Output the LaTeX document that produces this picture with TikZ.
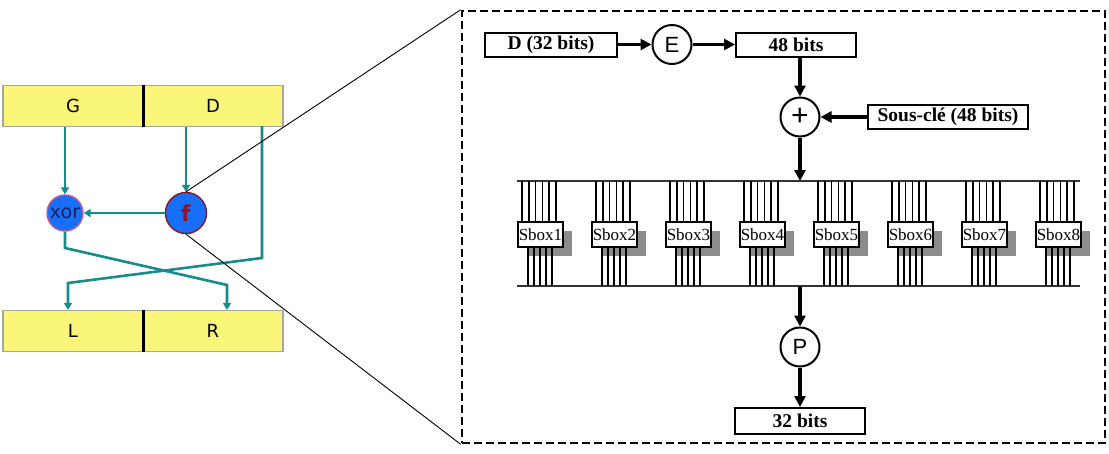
\documentclass[tikz,border=0pt]{standalone}
\usepackage{fontspec}
\setmainfont{Liberation Serif}
\newfontfamily\sansf{Liberation Sans}
\newfontfamily\leftf{DejaVu Sans}
\usetikzlibrary{arrows.meta}
\definecolor{barY}{RGB}{250,246,122}
\definecolor{tealC}{RGB}{22,140,140}
\definecolor{blueC}{RGB}{24,112,250}
\definecolor{fborder}{RGB}{140,20,40}
\definecolor{xborder}{RGB}{190,90,150}
\definecolor{shadowC}{RGB}{140,140,140}
\definecolor{xtext}{RGB}{30,30,90}
\begin{document}
\begin{tikzpicture}[x=1pt,y=-1pt,
  bar/.style={draw=gray!70, line width=1.2pt, fill=barY, minimum width=140pt, minimum height=41pt, inner sep=0pt, font=\leftf\fontsize{18}{18}\selectfont},
  tealarrow/.style={draw=tealC, line width=2.6pt, -{Triangle[length=7pt,width=8pt]}},
  bluecirc/.style={circle, fill=blueC, line width=1.4pt, inner sep=0pt},
  databox/.style={draw, line width=2pt, minimum height=24pt, inner sep=0pt, font=\bfseries\fontsize{19.5}{19.5}\selectfont},
  opcirc/.style={circle, draw, line width=2pt, minimum size=39pt, inner sep=0pt, font=\sansf\fontsize{22}{22}\selectfont},
  bigarrow/.style={line width=3.2pt, -{Triangle[length=11pt,width=11pt]}},
  sboxnode/.style={draw, fill=white, line width=1.8pt, minimum width=45pt, minimum height=25pt, inner sep=0pt, font=\fontsize{17}{17}\selectfont},
  shadowbox/.style={fill=shadowC, minimum width=45pt, minimum height=25pt, inner sep=0pt},
  busline/.style={line width=1.4pt, draw=black!80},
  wire/.style={line width=1.6pt}
]
\useasboundingbox (0,0) rectangle (1109,453);

% ---------- left part ----------
\node[bar] (G) at (73,106) {G};
\node[bar] (D) at (213,106) {D};
\node[bar] (L) at (73,331) {L};
\node[bar] (R) at (213,331) {R};
\draw[line width=2.4pt] (G.north east) -- (G.south east);
\draw[line width=2.4pt] (L.north east) -- (L.south east);

\node[bluecirc, draw=xborder, minimum size=36pt, text=xtext, font=\leftf\fontsize{19}{19}\selectfont] (xor) at (65,213) {\kern-1pt xor\kern-1pt};
\node[bluecirc, draw=fborder, minimum size=41pt, text=fborder, font=\leftf\bfseries\fontsize{22}{22}\selectfont] (f) at (186,213) {f};

\draw[tealarrow] (xor |- G.south) -- (xor.north);
\draw[tealarrow] (f |- D.south) -- (f.north);
\draw[tealarrow] (f.west) -- (xor.east);

\coordinate (d0) at (262,126);
\coordinate (d1) at (262,258);
\coordinate (d2) at (68,283);
\draw[tealarrow] (d0) -- (d1) -- (d2) -- (L.north -| d2);

\coordinate (x1) at (65,248);
\coordinate (x2) at (227,285);
\draw[tealarrow] (xor.south) -- (x1) -- (x2) -- (R.north -| x2);

% ---------- zoom box ----------
\node[draw, dashed, dash pattern=on 8pt off 4pt, line width=2.6pt, minimum width=643pt, minimum height=432pt, inner sep=0pt] (zoombox) at (783.5,227) {};
\draw[line width=0.9pt] (f.north) -- (zoombox.north west);
\draw[line width=0.9pt] (f.south) -- (zoombox.south west);

% ---------- right part ----------
\node[databox, minimum width=132pt] (din) at (551,44.5) {D (32 bits)};
\node[opcirc] (E) at (672,44.5) {E};
\node[databox, minimum width=120pt] (b48) at (796,44.5) {48 bits};
\node[opcirc, font=\sansf\fontsize{30}{30}\selectfont] (plus) at (800,117) {+};
\node[databox, minimum width=160pt] (key) at (948,117) {Sous-clé (48 bits)};
\node[opcirc] (P) at (800,347) {P};
\node[databox, minimum width=130pt, minimum height=26pt] (out) at (800,421) {32 bits};

\draw[bigarrow] (din.east) -- (E.west);
\draw[bigarrow] (E.east) -- (b48.west);
\draw[bigarrow] (plus |- b48.south) -- (plus.north);
\draw[bigarrow] (key.west) -- (plus.east);

\coordinate (bt1) at (517,181);
\coordinate (bt2) at (1080,181);
\coordinate (bb1) at (517,286);
\coordinate (bb2) at (1080,286);
\draw[busline] (bt1) -- (bt2);
\draw[busline] (bb1) -- (bb2);

\draw[bigarrow] (plus.south) -- (plus |- bt1);
\draw[bigarrow] (plus |- bb1) -- (P.north);
\draw[bigarrow] (P.south) -- (out.north);

\foreach \i in {1,...,8}{
  \pgfmathsetmacro{\lx}{518+74*(\i-1)}
  \node[shadowbox] (sh\i) at (\lx+31.5,243.5) {};
  \foreach \k in {0,...,5}{
    \draw[wire] (\lx+4+6.8*\k,181) -- (\lx+4+6.8*\k,222);
  }
  \foreach \k in {0,...,4}{
    \draw[wire] (\lx+10+6*\k,247) -- (\lx+10+6*\k,286);
  }
  \node[sboxnode] (sb\i) at (\lx+22.5,234.5) {Sbox\i};
}
\end{tikzpicture}
\end{document}
